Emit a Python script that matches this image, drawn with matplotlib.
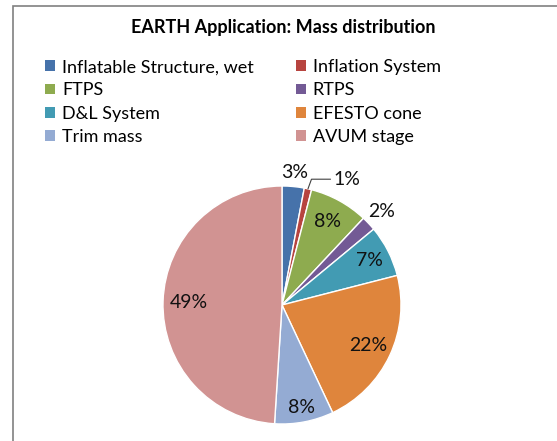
import numpy as np
import matplotlib.pyplot as plt
from matplotlib.patches import Patch, Rectangle

# Data
labels = ['Inflatable Structure, wet', 'Inflation System', 'FTPS', 'RTPS',
          'D&L System', 'EFESTO cone', 'Trim mass', 'AVUM stage']
shares = [3, 1, 8, 2, 7, 22, 8, 49]
colors = ['#4672AA', '#B7443F', '#8EAB4F', '#735A95',
          '#429BB3', '#DF853C', '#94ABD3', '#D19392']
# label distance (fraction of radius) per slice
label_dist = [1.12, 1.14, 0.80, 1.15, 0.82, 0.80, 0.88, 0.78]

plt.rcParams['font.family'] = ['Lato', 'DejaVu Sans']

fig = plt.figure(figsize=(5.57, 4.41), dpi=100)
W, H = 557, 441

# chart frame
fig.patches.append(Rectangle((13 / W, -0.1), 1.0, 1 - 6 / H + 0.1, transform=fig.transFigure,
                             fill=False, edgecolor='#808080', linewidth=1.2))

fig.text(283 / W, 1 - 27 / H, 'EARTH Application: Mass distribution', ha='center', va='center',
         fontsize=13, fontweight='bold')

# pie axes
cx, cy, r = 282, 305, 119
ax = fig.add_axes([(cx - r) / W, (H - cy - r) / H, 2 * r / W, 2 * r / H])
wedges, _ = ax.pie(shares, colors=colors, startangle=90, counterclock=False, radius=1.0,
                   wedgeprops=dict(edgecolor='white', linewidth=1.0))
ax.set_xlim(-1, 1)
ax.set_ylim(-1, 1)
ax.set_aspect('equal')
ax.axis('off')

for i, w in enumerate(wedges):
    mid = np.deg2rad((w.theta1 + w.theta2) / 2)
    d = label_dist[i]
    txt = f'{shares[i]}%'
    if labels[i] == 'Inflation System':
        # nudged to the right with a small leader line
        lab = mid - np.deg2rad(8)
        ax.annotate(txt, xy=(np.cos(mid) * 1.0, np.sin(mid) * 1.0),
                    xytext=(np.cos(lab) * d + 0.03, np.sin(lab) * d - 0.01),
                    ha='left', va='center', fontsize=14, color='#111111',
                    arrowprops=dict(arrowstyle='-', color='#404040', lw=0.8,
                                    shrinkA=0, shrinkB=0,
                                    connectionstyle='angle,angleA=180,angleB=70,rad=0'),
                    annotation_clip=False)
    else:
        ax.text(np.cos(mid) * d, np.sin(mid) * d, txt, ha='center', va='center',
                fontsize=14, color='#111111', clip_on=False)

# legend filled row by row (matplotlib fills columns first)
order = [0, 2, 4, 6, 1, 3, 5, 7]
handles = [Patch(facecolor=colors[k], edgecolor='none') for k in order]
fig.legend(handles, [labels[k] for k in order], ncol=2, loc='upper left',
           bbox_to_anchor=(38 / W, 1 - 52 / H),
           frameon=False, fontsize=13, handlelength=0.55, handleheight=0.55,
           handletextpad=0.4, columnspacing=2.3, labelspacing=0.4, borderaxespad=0)

fig.savefig('out.png', dpi=100)
